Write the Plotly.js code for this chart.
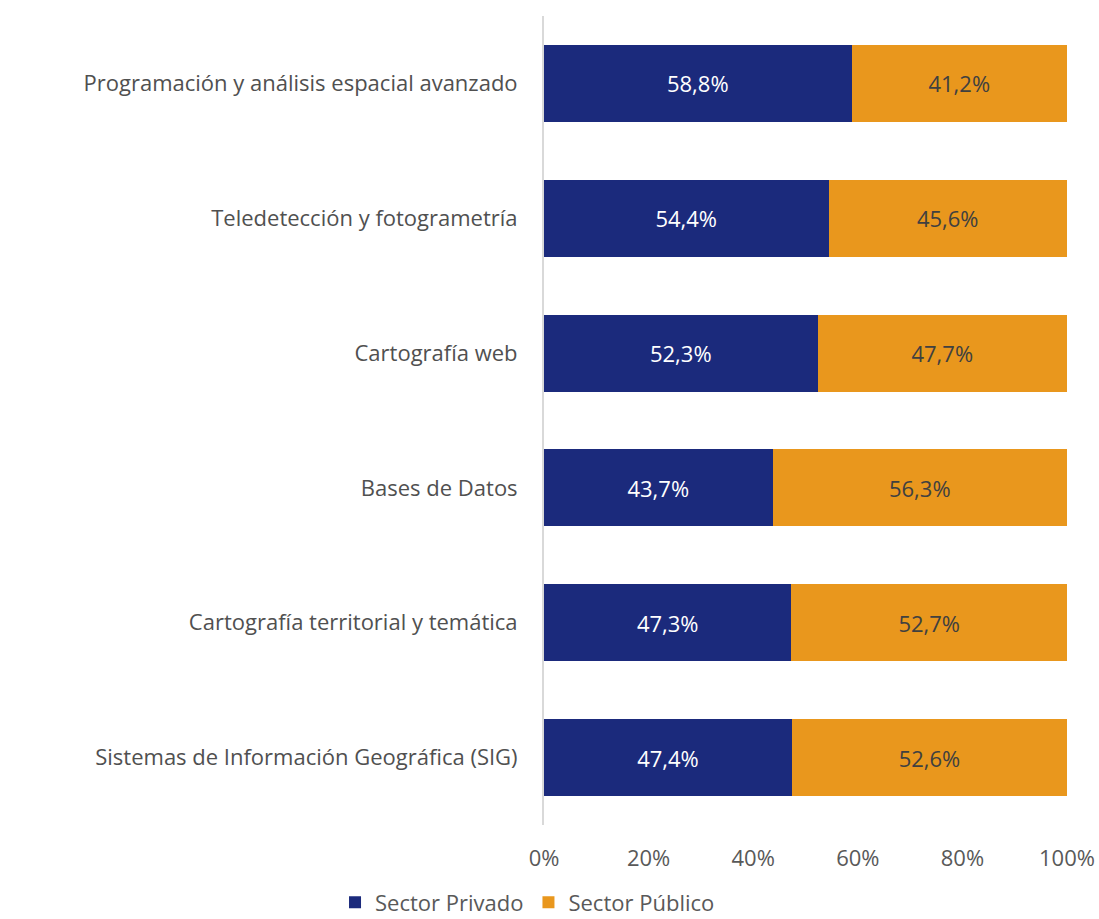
<!DOCTYPE html>
<html>
<head>
<meta charset="utf-8">
<script src="https://cdn.plot.ly/plotly-3.0.1.min.js"></script>
<style>
  html, body { margin: 0; padding: 0; background: #fff; }
  #draw { width: 1099px; height: 919px; }
</style>
</head>
<body>
<div id="draw"></div>
<script>
const categories = [
  'Sistemas de Información Geográfica (SIG)',
  'Cartografía territorial y temática',
  'Bases de Datos',
  'Cartografía web',
  'Teledetección y fotogrametría',
  'Programación y análisis espacial avanzado'
]
const privado = [47.4, 47.3, 43.7, 52.3, 54.4, 58.8]
const publico = [52.6, 52.7, 56.3, 47.7, 45.6, 41.2]
const xTicks = [0, 20, 40, 60, 80, 100]

const fmt = v => v.toFixed(1).replace('.', ',') + '%'
const FONT = 'Open Sans, Lato, sans-serif'

const main = () => {
  const mk = (name, vals, color, txtColor) => ({
    type: 'bar',
    orientation: 'h',
    name: name,
    y: categories,
    x: vals,
    text: vals.map(fmt),
    textposition: 'inside',
    insidetextanchor: 'middle',
    textfont: {family: FONT, size: 22, color: txtColor},
    constraintext: 'none',
    marker: {color: color, line: {width: 0}},
    hoverinfo: 'skip'
  })

  const data = [
    mk('Sector Privado', privado, '#1b2a7c', '#ffffff'),
    mk('Sector Público', publico, '#e9971d', '#404040')
  ]

  const layout = {
    width: 1099,
    height: 919,
    barmode: 'stack',
    bargap: 0.43,
    margin: {l: 544, r: 32, t: 16, b: 94, autoexpand: false},
    paper_bgcolor: '#fff',
    plot_bgcolor: '#fff',
    font: {family: FONT, size: 22, color: '#595959'},
    xaxis: {
      range: [0, 100],
      tickvals: xTicks,
      ticktext: xTicks.map(v => v + '%'),
      showgrid: false,
      zeroline: false,
      showline: false,
      ticks: '',
      ticklabelstandoff: 18,
      tickfont: {family: FONT, size: 22, color: '#595959'},
      automargin: false
    },
    yaxis: {
      showgrid: false,
      zeroline: false,
      showline: true,
      linecolor: '#d9d9d9',
      linewidth: 2,
      ticks: '',
      ticklabelstandoff: 20,
      tickfont: {family: FONT, size: 22, color: '#505050'},
      automargin: false
    },
    showlegend: true,
    legend: {
      orientation: 'h',
      xref: 'container',
      yref: 'container',
      x: 0.48,
      xanchor: 'center',
      y: 0.018,
      yanchor: 'middle',
      font: {family: FONT, size: 22, color: '#595959'},
      itemwidth: 30,
      tracegroupgap: 0,
      traceorder: 'normal'
    }
  }

  Plotly.newPlot('draw', data, layout, {displayModeBar: false, staticPlot: true})
}

main()
</script>
</body>
</html>
